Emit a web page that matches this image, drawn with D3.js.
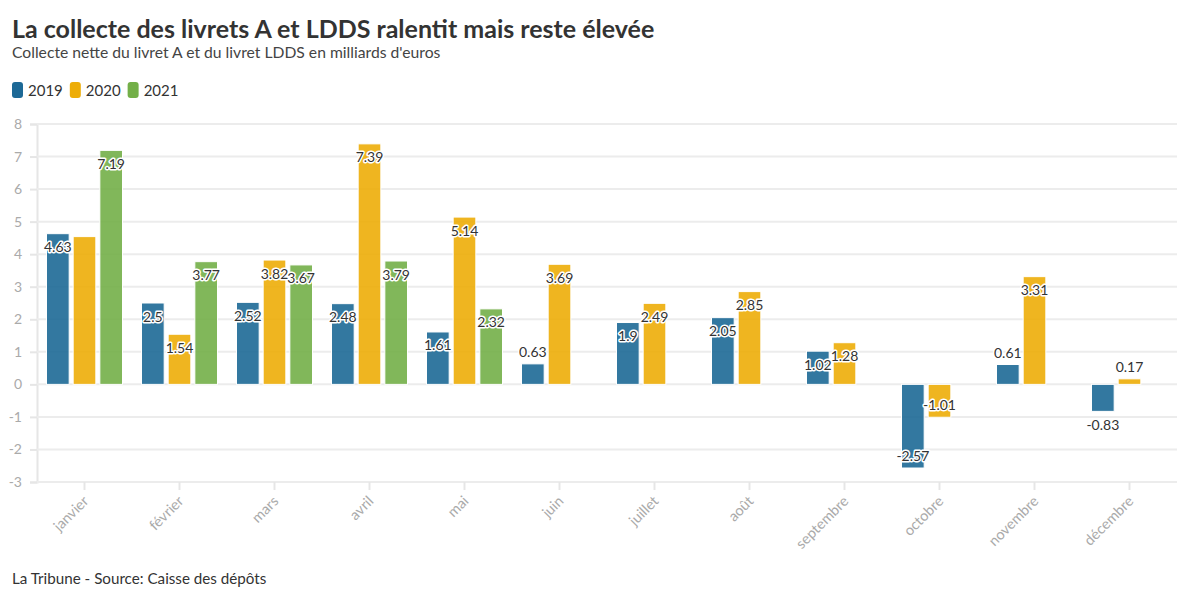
<!DOCTYPE html>
<html>
<head>
<meta charset="utf-8">
<script src="https://cdn.jsdelivr.net/npm/d3@7"></script>
<style>
  body { margin: 0; background: #fff; font-family: Lato, "Noto Sans", sans-serif; }
  svg text { font-family: Lato, "Noto Sans", sans-serif; }
</style>
</head>
<body>
<svg id="chart" width="1200" height="600"></svg>
<script>
// data
let months = ["janvier", "février", "mars", "avril", "mai", "juin", "juillet", "août", "septembre", "octobre", "novembre", "décembre"];
let years = ["2019", "2020", "2021"];
let values2019 = [4.63, 2.5, 2.52, 2.48, 1.61, 0.63, 1.9, 2.05, 1.02, -2.57, 0.61, -0.83];
let values2020 = [4.54, 1.54, 3.82, 7.39, 5.14, 3.69, 2.49, 2.85, 1.28, -1.01, 3.31, 0.17];
let values2021 = [7.19, 3.77, 3.67, 3.79, 2.32, null, null, null, null, null, null, null];
let yTicks = [-3, -2, -1, 0, 1, 2, 3, 4, 5, 6, 7, 8];
let colors = ["#1D6996", "#EDAD08", "#73AF48"];
// labels the original chart leaves out (they overlap a neighbour)
let hiddenLabels = ["janvier 2020"];

let seriesValues = [values2019, values2020, values2021];

let svg = d3.select('#chart');
let plot = {t: 124, r: 1177, b: 482, l: 37};

let x = d3.scaleBand().domain(months).range([plot.l, plot.r]).paddingInner(0.2).paddingOuter(0.1);
let xInner = d3.scaleBand().domain(years).range([0, x.bandwidth()]).paddingInner(0.15);
let y = d3.scaleLinear().domain([-3, 8]).range([plot.b, plot.t]);
let color = d3.scaleOrdinal().domain(years).range(colors);

// titles
svg.append("text").attr("x", 12).attr("y", 38)
    .attr("font-size", "25px").attr("font-weight", "bold").attr("fill", "#333")
    .text("La collecte des livrets A et LDDS ralentit mais reste élevée");
svg.append("text").attr("x", 12).attr("y", 58)
    .attr("font-size", "15.7px").attr("fill", "#444")
    .text("Collecte nette du livret A et du livret LDDS en milliards d'euros");

// legend
let legend = svg.append("g").attr("transform", "translate(12,82)");
let lx = 0;
years.forEach(function(yr) {
    let g = legend.append("g").attr("transform", "translate(" + lx + ",0)");
    g.append("rect").attr("width", 11).attr("height", 16).attr("rx", 3).attr("fill", color(yr));
    let t = g.append("text").attr("x", 16).attr("y", 13.5)
        .attr("font-size", "15px").attr("fill", "#333").text(yr);
    lx += 16 + t.node().getComputedTextLength() + 7;
});

// y grid + labels
let yAxis = svg.append("g").attr("transform", "translate(" + plot.l + ",0)")
    .call(d3.axisLeft(y).tickValues(yTicks).tickSize(7).tickPadding(8).tickFormat(d => String(d)));
yAxis.select(".domain").attr("stroke", "#e6e6e6").attr("stroke-width", 2);
yAxis.selectAll(".tick line").attr("stroke", "#e6e6e6").attr("stroke-width", 2);
yAxis.selectAll(".tick text").attr("fill", "#aaa").attr("font-size", "14px");
svg.append("g").selectAll("line").data(yTicks).enter().append("line")
    .attr("x1", plot.l).attr("x2", plot.r)
    .attr("y1", d => y(d)).attr("y2", d => y(d))
    .attr("stroke", "#ececec").attr("stroke-width", 2);

// x axis
let xAxis = svg.append("g").attr("transform", "translate(0," + plot.b + ")")
    .call(d3.axisBottom(x).tickSize(8).tickSizeOuter(0));
xAxis.select(".domain").remove();
xAxis.selectAll(".tick line").attr("stroke", "#e6e6e6").attr("stroke-width", 2);
xAxis.selectAll(".tick text")
    .attr("fill", "#aaa").attr("font-size", "14.5px")
    .attr("text-anchor", "end")
    .attr("x", 0).attr("y", 0).attr("dy", 0)
    .attr("transform", "translate(5,20) rotate(-45)");

// bars
let barData = [];
months.forEach(function(m, i) {
    years.forEach(function(yr, j) {
        let v = seriesValues[j][i];
        if (v != null) barData.push({month: m, year: yr, value: v});
    });
});

let bars = svg.append("g");
bars.selectAll("rect").data(barData).enter().append("rect")
    .attr("x", d => x(d.month) + xInner(d.year))
    .attr("width", xInner.bandwidth())
    .attr("y", d => Math.min(y(d.value), y(0)))
    .attr("height", d => Math.abs(y(d.value) - y(0)))
    .attr("fill", d => color(d.year))
    .attr("fill-opacity", 0.9)
    .attr("stroke", "#fff").attr("stroke-width", 1);

// value labels
let labels = svg.append("g");
barData.forEach(function(d) {
    if (hiddenLabels.indexOf(d.month + " " + d.year) >= 0) return;
    let h = Math.abs(y(d.value) - y(0));
    let cx = x(d.month) + xInner(d.year) + xInner.bandwidth() / 2;
    let cy;
    if (d.value >= 0) cy = h < 28 ? y(d.value) - 12 : y(d.value) + 13;
    else cy = h < 28 ? y(d.value) + 13 : y(d.value) - 13;
    labels.append("text")
        .attr("x", cx).attr("y", cy)
        .attr("text-anchor", "middle").attr("dominant-baseline", "central")
        .attr("font-size", "14px").attr("fill", "#333")
        .attr("stroke", "#fff").attr("stroke-width", 3).attr("paint-order", "stroke")
        .attr("stroke-linejoin", "round")
        .text(String(d.value));
});

// source
svg.append("text").attr("x", 12).attr("y", 584)
    .attr("font-size", "15.2px").attr("fill", "#333")
    .text("La Tribune - Source: Caisse des dépôts");
</script>
</body>
</html>
